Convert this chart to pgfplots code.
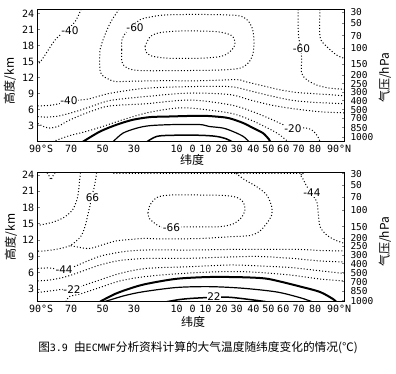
\documentclass[border=0pt]{standalone}
\usepackage{pgfplots}
\pgfplotsset{compat=1.18}
\usepackage{fontspec}
\setmainfont{DejaVu Sans}
\newfontfamily\tickfont{DejaVu Sans Mono}
\newfontfamily\cjk{Noto Sans CJK SC}
\newfontfamily\monofont{DejaVu Sans Mono}
\pgfplotsset{
  panel/.style={
    scale only axis, width=306.3pt,
    xmin=-90, xmax=90,
    axis line style={line width=1pt},
    xtick={-88,-70.4,-51.9,-33.4,-8.3,1.0,8.5,18.1,26.9,36.7,45.5,54.3,63.4,73.0,87.1},
    xticklabels={90°S,70,50,30,10,0,10,20,30,40,50,60,70,80,90°N},
    xtick style={draw=none},
    xtick pos=bottom, ytick pos=left,
    ytick={3,6,9,12,15,18,21,24},
    yticklabels={3,6,9,12,15,18,21,24},
    tick align=inside, major tick length=2.5pt,
    ytick style={line width=0.9pt},
    tick label style={font=\tickfont\fontsize{10}{10}\selectfont},
  },
  rpanel/.style={
    scale only axis, width=306.3pt, xmin=-90, xmax=90,
    hide x axis, axis y line*=right, axis line style={line width=1pt},
    ytick={24.2,22.1,19.85,17.45,14.5,12.4,10.85,9.2,7.65,6.0,4.33,2.6,0.86},
    yticklabels={30,50,70,100,150,200,250,300,400,500,700,850,1000},
    tick align=inside, major tick length=2.5pt, ytick style={line width=0.9pt},
    yticklabel style={font=\tickfont\fontsize{9.5}{9.5}\selectfont, inner sep=0.3pt, xshift=6pt},
  },
}
\tikzset{
  dot/.style={black, line width=1pt, dash pattern=on 1pt off 2.1pt, smooth, tension=0.5},
  sol/.style={black, line width=1.2pt, smooth, tension=0.5},
  solb/.style={black, line width=2pt, smooth, tension=0.5},
  lbl/.style={font=\fontsize{10.5}{11}\selectfont, fill=white, inner sep=0.6pt},
}
\begin{document}
\begin{tikzpicture}[x=1pt,y=1pt]
\useasboundingbox (0,0) rectangle (396,374);
% ================= top panel =================
\begin{axis}[panel, height=132.4pt, ymin=0, ymax=24.76, at={(37.7pt,232.3pt)}, anchor=south west]
% -40 upper left
\addplot[dot] coordinates {(-89.2,14.7)(-87.6,15.3)(-84.5,16.8)(-81.0,18.5)(-78.1,19.6)(-72,21.2)(-68.1,22.4)(-65.1,24.3)(-64.6,24.76)};
% -50
\addplot[dot] coordinates {(-42.2,24.76)(-46.3,22.8)(-49.3,20.9)(-52.2,18.5)(-53.4,17.2)(-53.4,13.4)(-51.6,12.3)(-48.7,11.75)(-44.5,11.25)(-35.8,11.3)(-18.1,11.4)(5.4,11.4)(26.9,11.6)(31.8,11.25)(42.4,10.45)(52.4,9.7)(62.2,9.2)(71.8,9.0)(90,8.6)};
% -60 loop
\addplot[dot] coordinates {(-40.6,17.2)(-40.5,19.0)(-37.5,20.7)(-29.9,22.8)(-24.0,23.3)(-15.2,23.7)(5.4,23.8)(27.1,23.6)(33.0,22.8)(36.0,21.3)(37.1,19.0)(36.6,16.6)(34.2,14.9)(28.9,13.75)(17.1,13.4)(-6.4,13.3)(-29.9,13.3)(-37.5,13.8)(-40.5,14.9)(-40.6,17.2)};
% -70 ellipse
\addplot[dot] coordinates {(-26.9,17.8)(-24.0,19.6)(-18.1,20.4)(-6.4,20.7)(5.4,20.7)(17.1,20.5)(24.2,19.8)(25.9,18.4)(24.2,17.2)(18.3,16.0)(5.4,15.6)(-12.3,15.6)(-22.8,16.0)(-26.4,16.8)(-26.9,17.8)};
% -60 north
\addplot[dot] coordinates {(63.1,24.76)(63.1,20.9)(63.6,19.0)(64.7,17.5)(65.1,15.3)(65.1,12.8)(68.1,11.6)(73.9,10.6)(81.8,10.0)(90,9.8)};
% -70 north
\addplot[dot] coordinates {(75.9,24.76)(75.9,19.6)(79.8,17.8)(85.7,16.2)(90,15.6)};
% -40 lower
\addplot[dot] coordinates {(-90,6.7)(-82.8,6.8)(-75.7,7.2)(-67.5,7.7)(-59.9,8.0)(-47.5,9.05)(-26.4,10.0)(-0.5,10.3)(23.0,10.3)(34.8,9.5)(46.5,8.6)(58.3,7.8)(70.0,7.4)(90,7.1)};
% -30
\addplot[dot] coordinates {(-90,4.7)(-83.9,4.6)(-76.9,4.85)(-68.1,5.6)(-59.3,6.5)(-47.5,7.7)(-26.4,8.45)(-0.5,9.1)(23.0,8.8)(34.8,7.8)(46.5,6.9)(58.3,6.25)(75.9,5.6)(90,5.4)};
% -20
\addplot[dot] coordinates {(-90,3.4)(-86.3,2.8)(-82.8,2.55)(-78.1,2.85)(-72.8,3.8)(-65.1,4.9)(-57.5,5.8)(-47.5,6.7)(-26.4,7.1)(-0.5,7.8)(23.0,6.9)(34.8,5.8)(46.5,4.3)(54.1,3.2)(60,2.4)(67.1,2.6)(71.8,2.05)(74.7,0.9)(75.9,0.0)};
% -10
\addplot[dot] coordinates {(-81.2,0.0)(-71.6,1.1)(-61.6,1.9)(-51.8,2.85)(-40.0,4.1)(-26.4,5.35)(-12.3,6.15)(-0.5,6.3)(23.0,5.35)(34.8,4.1)(43.6,2.8)(51.2,1.5)(57.1,0.0)};
% 0
\addplot[solb] coordinates {(-63.4,0.0)(-53.4,1.9)(-43.4,3.2)(-34.0,4.1)(-24.0,4.6)(-14.0,4.7)(5.4,4.85)(14.8,4.7)(22.4,4.4)(30.7,3.5)(36.6,2.55)(42.4,1.6)(46.0,0.4)(46.5,0.0)};
% 10
\addplot[sol] coordinates {(-45.7,0.0)(-39.9,1.6)(-31.6,2.55)(-24.0,3.0)(-10.5,3.2)(5.4,3.2)(10.7,2.85)(18.9,2.55)(24.8,1.9)(30.7,1.0)(34.2,0.0)};
% 20
\addplot[sol, line width=1.5pt] coordinates {(-25.8,0.0)(-19.9,1.0)(-10.5,1.2)(5.4,1.2)(14.8,1.0)(20.7,0.55)(24.2,0.0)};
\node[lbl] at (axis cs:-71.0,20.75) {-40};
\node[lbl] at (axis cs:-32.8,21.4) {-60};
\node[lbl] at (axis cs:65,17.4) {-60};
\node[lbl] at (axis cs:-71.6,7.65) {-40};
\node[lbl] at (axis cs:60,2.4) {-20};
\end{axis}
\begin{axis}[rpanel, height=132.4pt, ymin=0, ymax=24.76, at={(37.7pt,232.3pt)}, anchor=south west]
\end{axis}
% ================= bottom panel =================
\begin{axis}[panel, height=129pt, ymin=0.66, ymax=24.42, at={(37.7pt,72.3pt)}, anchor=south west]
% tiny loop top-left
\addplot[dot] coordinates {(-84.5,24.42)(-83.1,23.72)(-82.2,23.1)(-81.3,23.72)(-79.8,24.42)};
% L1
\addplot[dot] coordinates {(-64.85,24.42)(-65.55,22.5)(-66.5,20.0)(-69.25,17.7)(-74.5,16.2)(-81.6,15.25)(-86.9,14.9)(-90,14.7)};
% L2 (labelled 66)
\addplot[dot] coordinates {(-55.4,24.42)(-56.0,23.08)(-56.9,21.6)(-58.4,19.85)(-59.3,18.3)(-60.7,16.45)(-62.2,14.5)(-64.85,12.6)(-71.0,11.0)(-79.2,10.3)(-86.9,10.0)(-90,9.96)};
% -44 top/right
\addplot[dot] coordinates {(-45.6,24.29)(5.4,24.29)(62.4,24.29)(64.15,24.0)(65.7,23.4)(67.7,22.15)(70.6,20.7)(74.0,19.08)(74.9,16.94)(75.9,14.48)(79.8,12.95)(84.7,12.03)(90,11.42)};
% -55 outer
\addplot[dot] coordinates {(26.5,24.29)(31.8,23.08)(38.7,21.84)(44.6,20.31)(47.5,18.16)(47.5,16.63)(44.6,15.1)(40.6,13.68)(34.8,12.85)(23.0,12.63)(5.4,12.3)(-18.1,12.21)(-26.4,12.34)(-35.8,12.12)(-44.0,11.84)(-50.4,11.29)(-59.3,10.46)(-66,10.7)(-71.0,11.0)};
% -66 inner loop
\addplot[dot] coordinates {(-25.2,17.0)(-24.0,18.47)(-19.9,19.85)(-12.3,20.31)(5.4,20.31)(20.1,20.22)(27.1,19.85)(30.7,19.02)(31.8,17.55)(29.5,16.08)(24.8,14.97)(17.1,14.48)(5.4,14.42)(-6.4,14.42)(-13.4,14.33)(-18.1,14.48)(-22.2,15.34)(-24.6,16.08)(-25.2,17.0)};
% -44 lower
\addplot[dot] coordinates {(-90,6.78)(-82.8,6.87)(-74.5,6.5)(-66.3,7.42)(-59.3,8.34)(-51.8,9.17)(-38.7,9.91)(-26.4,10.18)(-0.5,10.18)(23.0,10.28)(40.6,10.28)(64.2,10.28)(75.9,10.09)(90,10.0)};
% -33
\addplot[dot] coordinates {(-90,4.48)(-82.8,4.66)(-74.0,5.21)(-65.1,6.13)(-53.4,7.42)(-41.7,8.25)(-26.4,8.62)(-0.5,8.66)(23.0,8.9)(40.6,8.99)(60.0,8.62)(75.9,8.16)(90,7.97)};
% -22
\addplot[dot] coordinates {(-90,2.36)(-82.8,2.63)(-75.7,2.91)(-69.8,2.82)(-64.0,3.55)(-53.4,4.66)(-41.7,5.86)(-26.4,6.78)(-0.5,7.11)(23.0,7.42)(40.6,7.24)(58.3,6.96)(71.8,6.5)(90,5.86)};
% -11
\addplot[dot] coordinates {(-73.4,0.66)(-71.6,1.58)(-65.1,2.08)(-53.4,3.28)(-41.7,4.48)(-26.4,5.3)(-0.5,5.95)(23.0,6.22)(40.6,6.04)(58.3,5.58)(75.9,4.84)(90,4.48)};
% 0
\addplot[solb] coordinates {(-53.4,0.66)(-44.6,2.08)(-35.8,3.09)(-26.4,3.92)(-8.3,4.88)(11.3,5.21)(30.7,5.16)(43.6,4.94)(52.4,4.38)(64.2,3.46)(75.9,2.45)(83.5,1.16)(85.3,0.66)};
% 11
\addplot[sol] coordinates {(-51.0,0.66)(-47.5,0.98)(-38.7,1.8)(-27.9,2.5)(-8.3,3.28)(11.3,3.43)(30.8,3.13)(50.5,2.45)(64.2,1.4)(71.2,0.66)};
% 22
\addplot[sol, line width=1.5pt] coordinates {(-14.2,0.66)(-6.4,1.07)(1.4,1.29)(13.6,1.47)(23.0,1.47)(36.7,0.98)(44.2,0.66)};
\node[lbl] at (axis cs:-57.8,19.85) {66};
\node[lbl] at (axis cs:-11.4,14.33) {-66};
\node[lbl] at (axis cs:71.2,20.7) {-44};
\node[lbl] at (axis cs:-74.5,6.5) {-44};
\node[lbl] at (axis cs:-69.8,2.82) {-22};
\node[lbl] at (axis cs:13.6,1.6) {22};
\end{axis}
\begin{axis}[rpanel, height=129pt, ymin=0.66, ymax=24.42, at={(37.7pt,72.3pt)}, anchor=south west]
\end{axis}
% ================= labels =================
\node[font=\cjk\fontsize{12}{12}\selectfont] at (192pt,214pt) {纬度};
\node[font=\cjk\fontsize{12}{12}\selectfont] at (193pt,52pt) {纬度};
\node[font=\cjk\fontsize{12}{12}\selectfont, rotate=90] at (10pt,293pt) {高度/km};
\node[font=\cjk\fontsize{12}{12}\selectfont, rotate=90] at (11pt,137pt) {高度/km};
\node[font=\cjk\fontsize{12}{12}\selectfont, rotate=90] at (385pt,296pt) {气压/hPa};
\node[font=\cjk\fontsize{12}{12}\selectfont, rotate=90] at (385pt,132pt) {气压/hPa};
\node[font=\cjk\fontsize{11.7}{12}\selectfont] at (198pt,26pt) {图{\monofont\fontsize{10}{12}\selectfont 3.9 }由{\monofont\fontsize{10}{12}\selectfont ECMWF}分析资料计算的大气温度随纬度变化的情况(℃)};
\end{tikzpicture}
\end{document}
